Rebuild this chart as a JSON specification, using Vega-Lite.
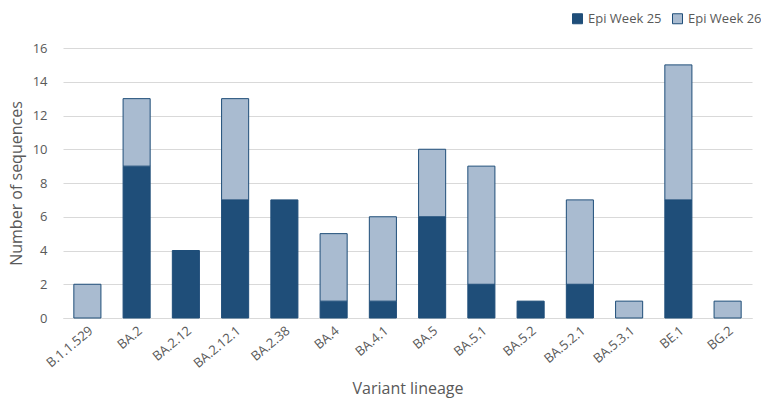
{
  "$schema": "https://vega.github.io/schema/vega-lite/v6.json",
  "autosize": "none",
  "width": 689,
  "height": 270,
  "padding": {"left": 63, "top": 48, "right": 9, "bottom": 86},
  "background": "white",
  "config": {
    "font": "Open Sans",
    "view": {"stroke": null}
  },
  "data": {
    "values": [
      {"lineage": "B.1.1.529", "week": "Epi Week 26", "n": 2},
      {"lineage": "BA.2", "week": "Epi Week 25", "n": 9},
      {"lineage": "BA.2", "week": "Epi Week 26", "n": 4},
      {"lineage": "BA.2.12", "week": "Epi Week 25", "n": 4},
      {"lineage": "BA.2.12.1", "week": "Epi Week 25", "n": 7},
      {"lineage": "BA.2.12.1", "week": "Epi Week 26", "n": 6},
      {"lineage": "BA.2.38", "week": "Epi Week 25", "n": 7},
      {"lineage": "BA.4", "week": "Epi Week 25", "n": 1},
      {"lineage": "BA.4", "week": "Epi Week 26", "n": 4},
      {"lineage": "BA.4.1", "week": "Epi Week 25", "n": 1},
      {"lineage": "BA.4.1", "week": "Epi Week 26", "n": 5},
      {"lineage": "BA.5", "week": "Epi Week 25", "n": 6},
      {"lineage": "BA.5", "week": "Epi Week 26", "n": 4},
      {"lineage": "BA.5.1", "week": "Epi Week 25", "n": 2},
      {"lineage": "BA.5.1", "week": "Epi Week 26", "n": 7},
      {"lineage": "BA.5.2", "week": "Epi Week 25", "n": 1},
      {"lineage": "BA.5.2.1", "week": "Epi Week 25", "n": 2},
      {"lineage": "BA.5.2.1", "week": "Epi Week 26", "n": 5},
      {"lineage": "BA.5.3.1", "week": "Epi Week 26", "n": 1},
      {"lineage": "BE.1", "week": "Epi Week 25", "n": 7},
      {"lineage": "BE.1", "week": "Epi Week 26", "n": 8},
      {"lineage": "BG.2", "week": "Epi Week 26", "n": 1}
    ]
  },
  "mark": {"type": "bar", "stroke": "#1f4e79", "strokeWidth": 1},
  "encoding": {
    "x": {
      "field": "lineage",
      "type": "nominal",
      "sort": null,
      "scale": {"paddingInner": 0.45, "paddingOuter": 0.22},
      "axis": {
        "title": "Variant lineage",
        "titleFontSize": 16,
        "titleFontWeight": "normal",
        "titleColor": "#595959",
        "titlePadding": 10,
        "labelAngle": -40,
        "labelFontSize": 13,
        "labelColor": "#595959",
        "labelPadding": 6,
        "ticks": false,
        "domainColor": "#d9d9d9",
        "domainWidth": 1
      }
    },
    "y": {
      "field": "n",
      "type": "quantitative",
      "aggregate": "sum",
      "stack": "zero",
      "scale": {"domain": [0, 16]},
      "axis": {
        "title": "Number of sequences",
        "titleFontSize": 16,
        "titleFontWeight": "normal",
        "titleColor": "#595959",
        "titlePadding": 8,
        "values": [0, 2, 4, 6, 8, 10, 12, 14, 16],
        "labelFontSize": 13,
        "labelColor": "#595959",
        "labelPadding": 16,
        "ticks": false,
        "domain": false,
        "gridColor": "#d9d9d9",
        "gridWidth": 1
      }
    },
    "color": {
      "field": "week",
      "type": "nominal",
      "scale": {"domain": ["Epi Week 25", "Epi Week 26"], "range": ["#1f4e79", "#a9bbd0"]},
      "legend": {
        "title": null,
        "orient": "none",
        "direction": "horizontal",
        "legendX": 508,
        "legendY": -36,
        "symbolType": "square",
        "symbolSize": 100,
        "symbolStrokeColor": "#1f4e79",
        "symbolStrokeWidth": 1,
        "labelFontSize": 13,
        "labelColor": "#595959",
        "columnPadding": 8
      }
    },
    "order": {"field": "week", "sort": "ascending"}
  }
}
